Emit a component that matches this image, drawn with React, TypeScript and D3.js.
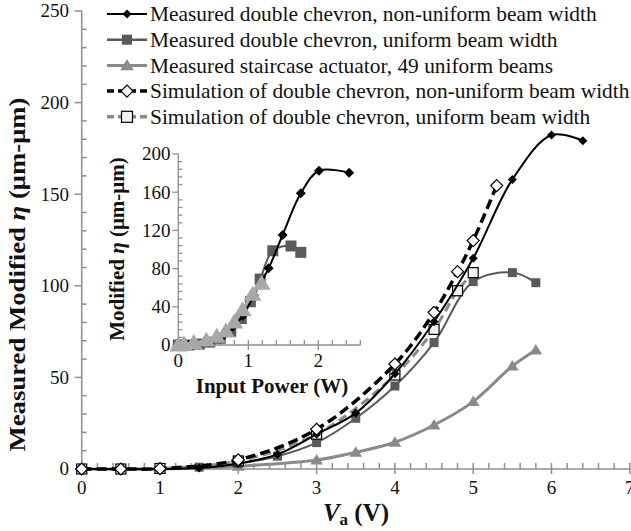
import React from "react";
import * as d3 from "d3";

// ---------- main chart data (V_a in V, modified eta in µm-µm)
const measNonUniV = [0, 0.5, 1, 1.5, 2, 2.5, 3, 3.5, 4, 4.5, 5, 5.5, 6, 6.4];
const measNonUniY = [0, 0, 0, 0.5, 3, 8, 19, 30.5, 52, 80.4, 115, 158, 182.3, 179.2];
const measUniV = [0, 0.5, 1, 1.5, 2, 2.5, 3, 3.5, 4, 4.5, 5, 5.5, 5.8];
const measUniY = [0, 0, 0, 1, 3, 7, 14.4, 27.7, 45.3, 69, 102.3, 107.2, 101.7];
const stairV = [0, 1, 2, 3, 3.5, 4, 4.5, 5, 5.5, 5.8];
const stairY = [0, 0, 1.5, 4.9, 9.1, 14.6, 24, 36.8, 56.2, 65];
const simNonUniV = [0, 0.5, 1, 2, 3, 4, 4.5, 4.8, 5, 5.3];
const simNonUniY = [0, 0, 0.2, 5, 21.7, 57.3, 85.5, 107.7, 124.7, 154.7];
const simUniV = [0, 0.5, 1, 2, 3, 4, 4.5, 4.8, 5];
const simUniY = [0, 0, 0.3, 4.4, 19, 51.3, 76.2, 97.3, 107.2];

// ---------- inset data (input power in W)
const inNonUniP = [0, 0.05, 0.15, 0.3, 0.45, 0.62, 0.78, 0.92, 1.08, 1.29, 1.49, 1.75, 2.01, 2.44];
const inNonUniY = [0, 0, 0, 0.5, 3, 8, 19, 30.5, 52, 80.3, 115.2, 158.8, 182.5, 180.4];
const inUniP = [0, 0.05, 0.15, 0.3, 0.45, 0.6, 0.75, 0.9, 1.03, 1.17, 1.35, 1.61, 1.75];
const inUniY = [0, 0, 0, 1, 3, 7, 14.4, 27.7, 45.3, 69, 98.7, 103.7, 97];
const inStairP = [0, 0.08, 0.22, 0.4, 0.55, 0.68, 0.8, 0.92, 1.06, 1.19];
const inStairY = [0, 1, 2.5, 5, 9.1, 14.6, 24, 36.8, 53, 64.6];

const legendLabels = [
  "Measured double chevron, non-uniform beam width",
  "Measured double chevron, uniform beam width",
  "Measured staircase actuator, 49 uniform beams",
  "Simulation of double chevron, non-uniform beam width",
  "Simulation of double chevron, uniform beam width",
];

const mainXTicks = [0, 1, 2, 3, 4, 5, 6, 7];
const mainYTicks = [0, 50, 100, 150, 200, 250];
const insetXTicks = [0, 1, 2];
const insetYTicks = [0, 40, 80, 120, 160, 200];

const AXIS = "#8f8f8f";
const BLACK = "#000";
const DARK = "#5a5a5a";
const STAIR = "#8a8a8a";
const STAIR_IN = "#a8a8a8";
const SIMU = "#8a8a8a";
const SERIF = "'Liberation Serif', 'Times New Roman', serif";

type Pt = [number, number];
const zip = (a: number[], b: number[]): Pt[] => a.map((v, i) => [v, b[i]]);

function Marker({ kind, x, y, s }: { kind: string; x: number; y: number; s: number }) {
  if (kind === "diamondFill")
    return <path d={`M${x},${y - s}L${x + s},${y}L${x},${y + s}L${x - s},${y}Z`} fill={BLACK} />;
  if (kind === "diamondOpen")
    return <path d={`M${x},${y - s}L${x + s},${y}L${x},${y + s}L${x - s},${y}Z`} fill="#fff" stroke={BLACK} strokeWidth={1.2} />;
  if (kind === "squareFill")
    return <rect x={x - s} y={y - s} width={2 * s} height={2 * s} fill={DARK} />;
  if (kind === "squareOpen")
    return <rect x={x - s} y={y - s} width={2 * s} height={2 * s} fill="#f2f2f2" stroke={BLACK} strokeWidth={1.2} />;
  if (kind === "tri")
    return <path d={`M${x},${y - s}L${x + s * 1.05},${y + s * 0.75}L${x - s * 1.05},${y + s * 0.75}Z`} fill={STAIR} />;
  if (kind === "triLight")
    return <path d={`M${x},${y - s}L${x + s * 1.05},${y + s * 0.75}L${x - s * 1.05},${y + s * 0.75}Z`} fill={STAIR_IN} />;
  return null;
}

export default function App() {
  // main scales
  const x = d3.scaleLinear().domain([0, 7]).range([81.7, 629.8]);
  const y = d3.scaleLinear().domain([0, 250]).range([469, 11]);
  // inset scales
  const xi = d3.scaleLinear().domain([0, 2.6]).range([178.3, 360.3]);
  const yi = d3.scaleLinear().domain([0, 200]).range([345, 154]);

  const lineMain = d3
    .line<Pt>()
    .x((d) => x(d[0]))
    .y((d) => y(d[1]))
    .curve(d3.curveCatmullRom.alpha(0.5));
  const lineIn = d3
    .line<Pt>()
    .x((d) => xi(d[0]))
    .y((d) => yi(d[1]))
    .curve(d3.curveCatmullRom.alpha(0.5));

  const mainSeries = [
    { pts: zip(stairV, stairY), color: STAIR, width: 3, dash: "", marker: "tri", ms: 6 },
    { pts: zip(measUniV, measUniY), color: DARK, width: 2, dash: "", marker: "squareFill", ms: 4.5 },
    { pts: zip(simUniV, simUniY), color: SIMU, width: 3, dash: "9,5", marker: "squareOpen", ms: 5 },
    { pts: zip(measNonUniV, measNonUniY), color: BLACK, width: 2, dash: "", marker: "diamondFill", ms: 4.5 },
    { pts: zip(simNonUniV, simNonUniY), color: BLACK, width: 3.5, dash: "10,5", marker: "diamondOpen", ms: 6 },
  ];

  const insetSeries = [
    { pts: zip(inUniP, inUniY), color: DARK, width: 2, marker: "squareFill", ms: 5.5 },
    { pts: zip(inNonUniP, inNonUniY), color: BLACK, width: 2, marker: "diamondFill", ms: 5 },
    { pts: zip(inStairP, inStairY), color: STAIR_IN, width: 3, marker: "triLight", ms: 8.5 },
  ];

  const legendRows = [
    { color: BLACK, width: 2, dash: "", marker: "diamondFill", ms: 4.5 },
    { color: DARK, width: 2.5, dash: "", marker: "squareFill", ms: 5 },
    { color: STAIR, width: 3, dash: "", marker: "tri", ms: 6.5 },
    { color: BLACK, width: 3.5, dash: "7,4", marker: "diamondOpen", ms: 6 },
    { color: SIMU, width: 3.5, dash: "7,4", marker: "squareOpen", ms: 5.5 },
  ];

  const mainXMinor = d3.range(0, 35).map((i) => i * 0.2).filter((v) => Math.abs(v - Math.round(v)) > 1e-6);
  const mainYMinor = d3.range(0, 26).map((i) => i * 10).filter((v) => v % 50 !== 0);
  const inXMinor = d3.range(0, 14).map((i) => i * 0.2).filter((v) => Math.abs(v - Math.round(v)) > 1e-6);
  const inYMinor = d3.range(0, 26).map((i) => i * 8).filter((v) => v % 40 !== 0);

  return (
    <svg
      width={631}
      height={531}
      style={{ position: "absolute", left: 0, top: 0, background: "#fff" }}
      fontFamily={SERIF}
    >
      <rect x={0} y={0} width={631} height={531} fill="#fff" />
      {/* ---------- main axes ---------- */}
      <g stroke={AXIS} strokeWidth={1.5}>
        <line x1={x(0)} x2={x(0)} y1={y(0)} y2={y(250)} />
        <line x1={x(0)} x2={x(7)} y1={y(0)} y2={y(0)} />
        {mainYTicks.map((t) => (
          <line key={"my" + t} x1={x(0) - 7} x2={x(0)} y1={y(t)} y2={y(t)} />
        ))}
        {mainYMinor.map((t) => (
          <line key={"mym" + t} x1={x(0)} x2={x(0) + 5} y1={y(t)} y2={y(t)} />
        ))}
        {mainXTicks.map((t) => (
          <line key={"mx" + t} x1={x(t)} x2={x(t)} y1={y(0) - 6} y2={y(0) + 5} />
        ))}
        {mainXMinor.map((t) => (
          <line key={"mxm" + t} x1={x(t)} x2={x(t)} y1={y(0) - 6} y2={y(0)} />
        ))}
      </g>
      <g fontSize={19} fill="#111">
        {mainYTicks.map((t) => (
          <text key={"myl" + t} x={69} y={y(t)} dy="0.34em" textAnchor="end">
            {t}
          </text>
        ))}
        {mainXTicks.map((t) => (
          <text key={"mxl" + t} x={x(t)} y={494} textAnchor="middle">
            {t}
          </text>
        ))}
      </g>
      <text
        transform={`translate(25,${274.5}) rotate(-90)`}
        textAnchor="middle"
        fontSize={24}
        fontWeight="bold"
        textLength={354}
        lengthAdjust="spacingAndGlyphs"
        fill="#111"
      >
        Measured Modified <tspan fontStyle="italic">η</tspan> (μm-μm)
      </text>
      <text x={356} y={521} textAnchor="middle" fontSize={25} fontWeight="bold" fill="#111">
        <tspan fontStyle="italic">V</tspan>
        <tspan fontSize={17} dy={4}>a</tspan>
        <tspan dy={-4}> (V)</tspan>
      </text>

      {/* ---------- main series ---------- */}
      {mainSeries.map((s, i) => (
        <g key={"ms" + i}>
          <path d={lineMain(s.pts) || ""} fill="none" stroke={s.color} strokeWidth={s.width} strokeDasharray={s.dash} />
          {s.pts.map((p, j) => (
            <Marker key={j} kind={s.marker} x={x(p[0])} y={y(p[1])} s={s.ms} />
          ))}
        </g>
      ))}

      {/* ---------- legend ---------- */}
      {legendLabels.map((lab, i) => {
        const r = legendRows[i];
        const cy = 14 + i * 25.7;
        return (
          <g key={"lg" + i}>
            <line x1={107} x2={147} y1={cy} y2={cy} stroke={r.color} strokeWidth={r.width} strokeDasharray={r.dash} />
            <Marker kind={r.marker} x={127} y={cy} s={r.ms} />
            <text x={150} y={cy} dy="0.34em" fontSize={21.4} fill="#111">
              {lab}
            </text>
          </g>
        );
      })}

      {/* ---------- inset ---------- */}
      <g stroke={AXIS} strokeWidth={1.3}>
        <line x1={xi(0)} x2={xi(0)} y1={yi(0)} y2={yi(200)} />
        <line x1={xi(0)} x2={xi(2.6)} y1={yi(0)} y2={yi(0)} />
        {insetYTicks.map((t) => (
          <line key={"iy" + t} x1={xi(0) - 6} x2={xi(0)} y1={yi(t)} y2={yi(t)} />
        ))}
        {inYMinor.map((t) => (
          <line key={"iym" + t} x1={xi(0)} x2={xi(0) + 4} y1={yi(t)} y2={yi(t)} />
        ))}
        {insetXTicks.map((t) => (
          <line key={"ix" + t} x1={xi(t)} x2={xi(t)} y1={yi(0) - 5} y2={yi(0) + 5} />
        ))}
        {inXMinor.map((t) => (
          <line key={"ixm" + t} x1={xi(t)} x2={xi(t)} y1={yi(0) - 5} y2={yi(0)} />
        ))}
      </g>
      <g fontSize={19} fill="#111">
        {insetYTicks.map((t) => (
          <text key={"iyl" + t} x={170.5} y={yi(t)} dy="0.34em" textAnchor="end">
            {t}
          </text>
        ))}
        {insetXTicks.map((t) => (
          <text key={"ixl" + t} x={xi(t)} y={367} textAnchor="middle">
            {t}
          </text>
        ))}
      </g>
      <text x={272} y={393} textAnchor="middle" fontSize={21} fontWeight="bold" fill="#111">
        Input Power (W)
      </text>
      <text
        transform={`translate(124,249) rotate(-90)`}
        textAnchor="middle"
        fontSize={21}
        fontWeight="bold"
        fill="#111"
      >
        Modified <tspan fontStyle="italic">η</tspan> (μm-μm)
      </text>
      {insetSeries.map((s, i) => (
        <g key={"is" + i}>
          <path d={lineIn(s.pts) || ""} fill="none" stroke={s.color} strokeWidth={s.width} />
          {s.pts.map((p, j) => (
            <Marker key={j} kind={s.marker} x={xi(p[0])} y={yi(p[1])} s={s.ms} />
          ))}
        </g>
      ))}
    </svg>
  );
}
